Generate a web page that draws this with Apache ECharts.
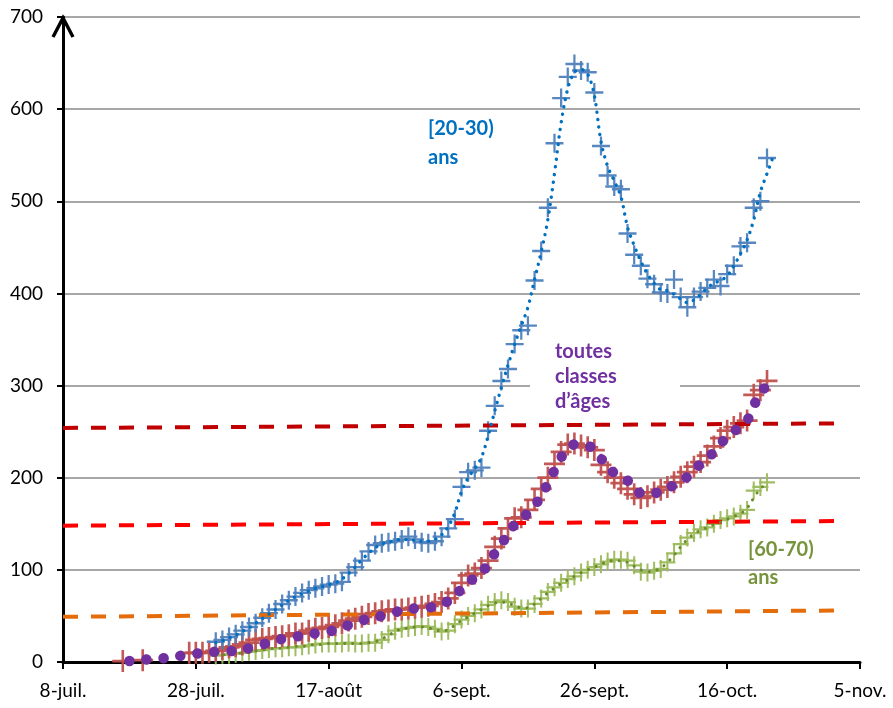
<!DOCTYPE html>
<html><head><meta charset="utf-8">
<script src="https://cdn.jsdelivr.net/npm/echarts@6/dist/echarts.min.js"></script>
<style>html,body{margin:0;padding:0;background:#fff}#c{width:893px;height:708px}</style>
</head><body><div id="c"></div>
<script>
// x = days since 8 July
const tickLabels = ['8-juil.','28-juil.','17-août','6-sept.','26-sept.','16-oct.','5-nov.'];
const yTicks = [0,100,200,300,400,500,600,700];

// [20-30) ans  (markers), first day = 23
const blueStart = 23;
const blueValues = [22,24,27,30,34,38,42,48,53,57,
  63,67,71,75,78,80,82,84,85,87,
  97,103,110,120,127,129,130,131,133,136,
  133,130,129,131,136,145,155,190,206,208,
  211,251,278,305,318,345,360,365,414,446,
  493,563,612,635,649,642,640,618,560,528,
  516,513,465,442,430,416,410,401,400,415,
  396,385,396,402,406,415,408,421,430,451,
  455,493,500,547];
// [20-30) ans smoothed (dotted)
const blueTrendStart = 23;
const blueTrend = [21,23,26,29,33,37,42,47,52,57,
  62,67,71,74,77,80,82,84,86,90,
  96,103,111,118,124,128,130,132,133,133,
  132,131,131,133,138,147,162,185,200,210,
  222,245,272,298,322,345,365,385,415,445,
  480,530,585,622,640,643,638,615,565,538,
  522,505,472,452,435,421,411,404,403,399,
  394,390,393,399,406,411,414,419,430,443,
  458,480,510,530,550];

// toutes classes d'âges (markers), first day = 9, null = no value
const allStart = 9;
const allValues = [1,null,null,2,null,null,null,null,null,null,
  10,10,10,11,12,14,16,17,19,21,
  24,25,26,27,28,29,31,31,34,36,
  37,38,40,42,45,47,49,52,53,55,
  56,57,57,58,59,60,61,63,65,69,
  75,86,94,96,102,110,125,134,145,156,
  157,165,176,188,200,215,228,236,237,235,
  233,230,214,206,200,194,188,182,178,180,
  184,187,190,195,201,206,212,217,224,234,
  243,251,255,259,262,290,295,305];
// toutes classes smoothed (big purple dots), first day = 10
const allTrendStart = 10;
const allTrend = [1,1,2,3,3,4,5,6,7,8,
  9,10,11,11,11,12,12,13,15,17,
  19,21,23,25,27,28,28,29,31,32,
  33,35,37,40,42,45,47,49,50,52,
  54,56,57,58,58,59,60,63,66,70,
  80,87,91,97,106,118,128,139,149,154,
  162,170,180,194,208,222,231,236,236,235,
  230,221,212,205,201,197,188,183,182,183,
  185,188,192,196,201,208,215,221,228,237,
  244,250,256,262,278,292,300];

// [60-70) ans (markers), first day = 23
const oldStart = 23;
const oldValues = [7,8,8,9,10,11,12,13,14,15,
  15,16,16,17,18,19,20,20,20,20,
  21,20,20,21,21,24,30,34,36,37,
  38,39,38,36,33,34,41,46,50,53,
  57,62,65,67,65,60,58,58,63,69,
  76,81,86,90,93,97,100,103,106,109,
  111,111,110,105,98,97,99,101,108,118,
  128,135,140,144,146,150,154,156,158,161,
  165,186,190,195];
const oldTrendStart = 23;
const oldTrend = [8,8,8,9,10,11,12,13,14,15,
  15,16,17,17,18,19,19,20,20,20,
  20,20,20,21,22,25,29,33,36,37,
  38,38,37,35,34,35,40,45,49,53,
  57,61,64,65,64,61,59,59,63,69,
  75,80,85,89,93,97,100,103,106,109,
  110,110,108,104,100,98,99,102,108,116,
  125,133,139,143,146,149,152,155,158,161,
  167,178,188,194];

// reference thresholds (start day, end day, values)
const thrDays = [0, 118];
const thrDarkRed = [254, 259];
const thrRed = [148, 153];
const thrOrange = [49, 56];

function seq(start, vals){
  const out = [];
  vals.forEach((v,i)=>{ if (v !== null) out.push([start+i, v]); });
  return out;
}
function pair(days, vals){ return days.map((d,i)=>[d, vals[i]]); }

const plus = 'path://M10.5,0 h3 v10.5 h10.5 v3 h-10.5 v10.5 h-3 v-10.5 h-10.5 v-3 h10.5 z';
const FONT = 'Lato, "Open Sans", sans-serif';

const chart = echarts.init(document.getElementById('c'), null, {renderer:'canvas'});
const option = {
  animation: false,
  backgroundColor: '#fff',
  grid: {left: 63, right: 33, top: 17, bottom: 46, containLabel: false, outerBoundsMode: 'none'},
  xAxis: {
    type: 'value', min: 0, max: 120, interval: 20,
    axisLine: {show: true, onZero: false, lineStyle: {color: '#000', width: 3}},
    axisTick: {show: true, inside: false, length: 7, lineStyle: {color: '#000', width: 2}},
    axisLabel: {margin: 19, color: '#000', fontSize: 19, fontFamily: FONT,
      formatter: v => tickLabels[Math.round(v/20)] || ''},
    splitLine: {show: false}
  },
  yAxis: {
    type: 'value', min: 0, max: 700, interval: 100,
    axisLine: {show: true, lineStyle: {color: '#000', width: 3}},
    axisTick: {show: true, inside: false, length: 6, lineStyle: {color: '#000', width: 2}},
    axisLabel: {margin: 20, color: '#000', fontSize: 19, fontFamily: FONT,
      formatter: v => yTicks.indexOf(v) >= 0 ? String(v) : ''},
    splitLine: {show: true, lineStyle: {color: '#8a8a8a', width: 1.6}}
  },
  series: [
    {type: 'scatter', name: '[60-70) ans', data: seq(oldStart, oldValues), symbol: plus, symbolSize: [16,18],
      itemStyle: {color: '#9bbb59', opacity: 0.95}, silent: true, z: 2},
    {type: 'scatter', name: 'toutes classes', data: seq(allStart, allValues), symbol: plus, symbolSize: [21,22],
      itemStyle: {color: '#c0504d', opacity: 0.95}, silent: true, z: 2},
    {type: 'scatter', name: '[20-30) ans', data: seq(blueStart, blueValues), symbol: plus, symbolSize: [18,19],
      itemStyle: {color: '#4f81bd', opacity: 0.95}, silent: true, z: 2},
    {type: 'line', data: pair(thrDays, thrOrange), symbol: 'none', silent: true, z: 3,
      lineStyle: {color: '#e46c0a', width: 4, type: [15, 13]}},
    {type: 'line', data: pair(thrDays, thrRed), symbol: 'none', silent: true, z: 3,
      lineStyle: {color: '#ff0000', width: 4, type: [15, 13]}},
    {type: 'line', data: pair(thrDays, thrDarkRed), symbol: 'none', silent: true, z: 3,
      lineStyle: {color: '#c00000', width: 4, type: [15, 13]}},
    {type: 'line', data: seq(oldTrendStart, oldTrend), symbol: 'none', smooth: 0.4, silent: true, z: 4,
      lineStyle: {color: '#6a8a30', width: 3, type: [0.1, 8], cap: 'round'}},
    {type: 'line', data: seq(allTrendStart, allTrend), symbol: 'none', smooth: 0.4, silent: true, z: 4,
      lineStyle: {color: '#7030a0', width: 10.5, type: [0.1, 17], cap: 'round'}},
    {type: 'line', data: seq(blueTrendStart, blueTrend), symbol: 'none', smooth: 0.35, silent: true, z: 4,
      lineStyle: {color: '#0070c0', width: 3.4, type: [0.1, 7.5], cap: 'round'}}
  ]
};
chart.setOption(option);

const tip = chart.convertToPixel({xAxisIndex: 0, yAxisIndex: 0}, [0, 700]);
const textStyleBase = {fontFamily: FONT, fontWeight: 'bold', fontSize: 20};
chart.setOption({
  graphic: [
    {type: 'rect', z: 1, shape: {x: 530, y: 338, width: 150, height: 79}, style: {fill: '#fff'}, silent: true},
    {type: 'polyline', z: 10, shape: {points: [[tip[0]-10, tip[1]+20], [tip[0], tip[1]+1], [tip[0]+10, tip[1]+20]]},
      style: {stroke: '#000', lineWidth: 3.4, fill: null, lineJoin: 'miter'}, silent: true},
    {type: 'text', z: 10, x: 428, y: 114, style: Object.assign({}, textStyleBase,
      {text: '[20-30)\nans', fill: '#0070c0', lineHeight: 29})},
    {type: 'text', z: 10, x: 555, y: 339, style: Object.assign({}, textStyleBase,
      {text: 'toutes\nclasses\nd’âges', fill: '#7030a0', lineHeight: 25})},
    {type: 'text', z: 10, x: 748, y: 536, style: Object.assign({}, textStyleBase,
      {text: '[60-70)\nans', fill: '#77933c', lineHeight: 28})}
  ]
});
</script></body></html>
